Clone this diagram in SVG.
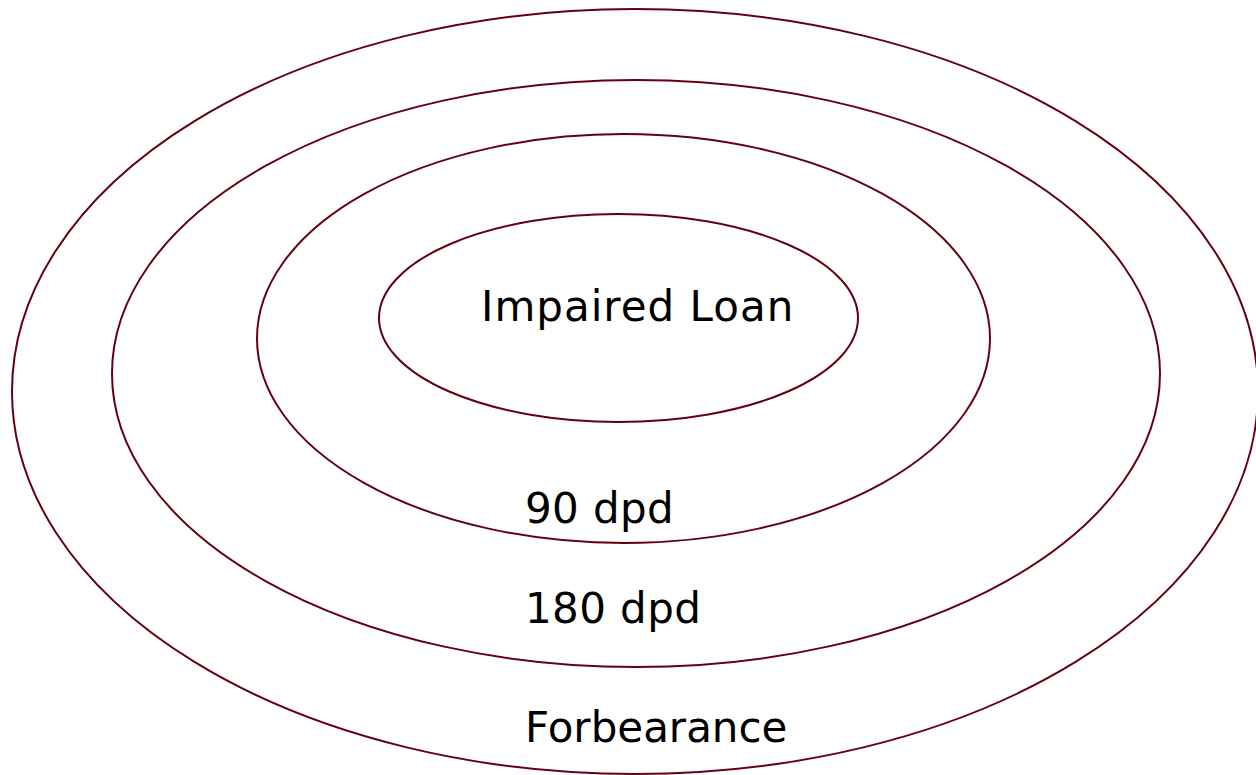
<svg xmlns="http://www.w3.org/2000/svg" width="1256" height="775" viewBox="0 0 1256 775">
<style>
.ring{fill:none;stroke:#660011;stroke-width:2}
.lbl{font-family:"DejaVu Sans","Verdana",sans-serif;font-size:42px;fill:#000}
</style>
<rect width="1256" height="775" fill="#fff"/>
<g id="forbearance">
<ellipse class="ring" cx="635" cy="391.5" rx="623" ry="382.5"/>
<text class="lbl" x="525" y="742">Forbearance</text>
</g>
<g id="dpd180">
<ellipse class="ring" cx="636" cy="373.5" rx="524" ry="293.5"/>
<text class="lbl" x="525" y="623" letter-spacing="0.4">180 dpd</text>
</g>
<g id="dpd90">
<ellipse class="ring" cx="623.5" cy="338.5" rx="366.5" ry="204.5"/>
<text class="lbl" x="525" y="523" letter-spacing="0.4">90 dpd</text>
</g>
<g id="impaired">
<ellipse class="ring" cx="618.5" cy="318" rx="239.5" ry="104"/>
<text class="lbl" x="481" y="321" letter-spacing="1">Impaired Loan</text>
</g>
<g id="connectors"/>
</svg>
